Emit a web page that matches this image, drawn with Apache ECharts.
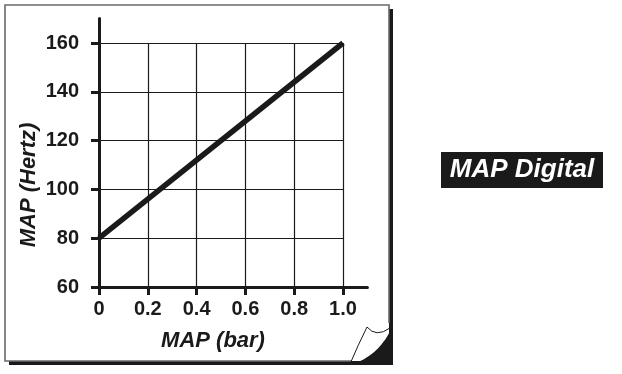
<!DOCTYPE html>
<html>
<head>
<meta charset="utf-8">
<script src="https://cdn.jsdelivr.net/npm/echarts@6/dist/echarts.min.js"></script>
<style>html,body{margin:0;padding:0;background:#fff;}#c{width:622px;height:374px;}</style>
</head>
<body>
<div id="c"></div>
<script>
// ---- data ----
const xTicks = [0, 0.2, 0.4, 0.6, 0.8, 1.0];
const yTicks = [60, 80, 100, 120, 140, 160];
const mapBar = [0, 1.0];
const mapHertz = [80, 160];
const xName = 'MAP (bar)';
const yName = 'MAP (Hertz)';
const badge = 'MAP Digital';

const INK = '#1a1a1a';
const FONT = '"Liberation Sans", Arial, sans-serif';

// corner crescent polygon (page curl shadow)
function quad(p0, c, p1, n) {
  const pts = [];
  for (let i = 0; i <= n; i++) {
    const t = i / n;
    pts.push([
      (1 - t) * (1 - t) * p0[0] + 2 * (1 - t) * t * c[0] + t * t * p1[0],
      (1 - t) * (1 - t) * p0[1] + 2 * (1 - t) * t * c[1] + t * t * p1[1]
    ]);
  }
  return pts;
}
const crescent = quad([350, 365], [380, 356], [393, 325], 20).concat([[393, 365]]);

const chart = echarts.init(document.getElementById('c'), null, {renderer: 'canvas'});
const axisText = {fontFamily: FONT, fontWeight: 'bold', fontSize: 20, color: INK};

chart.setOption({
  animation: false,
  graphic: [
    {type: 'rect', z: -10, shape: {x: 9, y: 9, width: 384, height: 356}, style: {fill: INK}},
    {type: 'rect', z: -9, shape: {x: 5, y: 5, width: 384, height: 356}, style: {fill: '#fff'}},
    {type: 'polyline', z: -8, shape: {points: [[351, 361], [5, 361], [5, 5], [389, 5], [389, 323]]},
      style: {stroke: '#6a6a6a', lineWidth: 1.6, fill: null}},
    {type: 'polygon', z: -7, shape: {points: crescent}, style: {fill: INK}},
    {type: 'bezierCurve', z: -6, shape: {x1: 350, y1: 364, cpx1: 358, cpy1: 345, x2: 367, y2: 327},
      style: {stroke: INK, lineWidth: 1, fill: null}},
    {type: 'bezierCurve', z: -6, shape: {x1: 367, y1: 327, cpx1: 376, cpy1: 338, x2: 390, y2: 328},
      style: {stroke: INK, lineWidth: 1, fill: null}},
    {type: 'text', x: 213, y: 341, style: {text: xName, fontFamily: FONT, fontWeight: 'bold', fontStyle: 'italic',
      fontSize: 22, fill: INK, align: 'center', verticalAlign: 'middle'}},
    {type: 'text', x: 29, y: 185, rotation: Math.PI / 2, style: {text: yName, fontFamily: FONT, fontWeight: 'bold',
      fontStyle: 'italic', fontSize: 22, fill: INK, align: 'center', verticalAlign: 'middle'}},
    {type: 'rect', shape: {x: 441, y: 152, width: 162, height: 36}, style: {fill: INK}},
    {type: 'text', x: 522, y: 170, style: {text: badge, fontFamily: FONT, fontWeight: 'bold', fontStyle: 'italic',
      fontSize: 26, fill: '#fff', align: 'center', verticalAlign: 'middle'}}
  ],
  grid: [
    {left: 99, top: 18.6, width: 268.4, height: 268.4, containLabel: false},
    {left: 99, top: 43, width: 244, height: 244, containLabel: false}
  ],
  xAxis: [
    {type: 'value', gridIndex: 0, min: 0, max: 1.1,
      axisLine: {show: true, lineStyle: {color: INK, width: 3}},
      axisTick: {show: true, length: 8, lineStyle: {color: INK, width: 3}, customValues: xTicks},
      axisLabel: {show: true, margin: 12, customValues: xTicks, ...axisText,
        formatter: v => (v === 0 ? '0' : v.toFixed(1))},
      splitLine: {show: false}},
    {type: 'value', gridIndex: 1, min: 0, max: 1, interval: 0.2,
      axisLine: {show: false}, axisTick: {show: false}, axisLabel: {show: false},
      splitLine: {show: true, lineStyle: {color: INK, width: 1.2}}}
  ],
  yAxis: [
    {type: 'value', gridIndex: 0, min: 60, max: 170,
      axisLine: {show: true, lineStyle: {color: INK, width: 3}},
      axisTick: {show: true, length: 8, lineStyle: {color: INK, width: 3}, customValues: yTicks},
      axisLabel: {show: true, margin: 20, customValues: yTicks, ...axisText},
      splitLine: {show: false}},
    {type: 'value', gridIndex: 1, min: 60, max: 160, interval: 20,
      axisLine: {show: false}, axisTick: {show: false}, axisLabel: {show: false},
      splitLine: {show: true, lineStyle: {color: INK, width: 1.2}}}
  ],
  series: [
    {type: 'line', xAxisIndex: 0, yAxisIndex: 0, z: 10, symbol: 'none',
      data: mapBar.map((x, i) => [x, mapHertz[i]]),
      lineStyle: {color: INK, width: 5.5}}
  ]
});
</script>
</body>
</html>
